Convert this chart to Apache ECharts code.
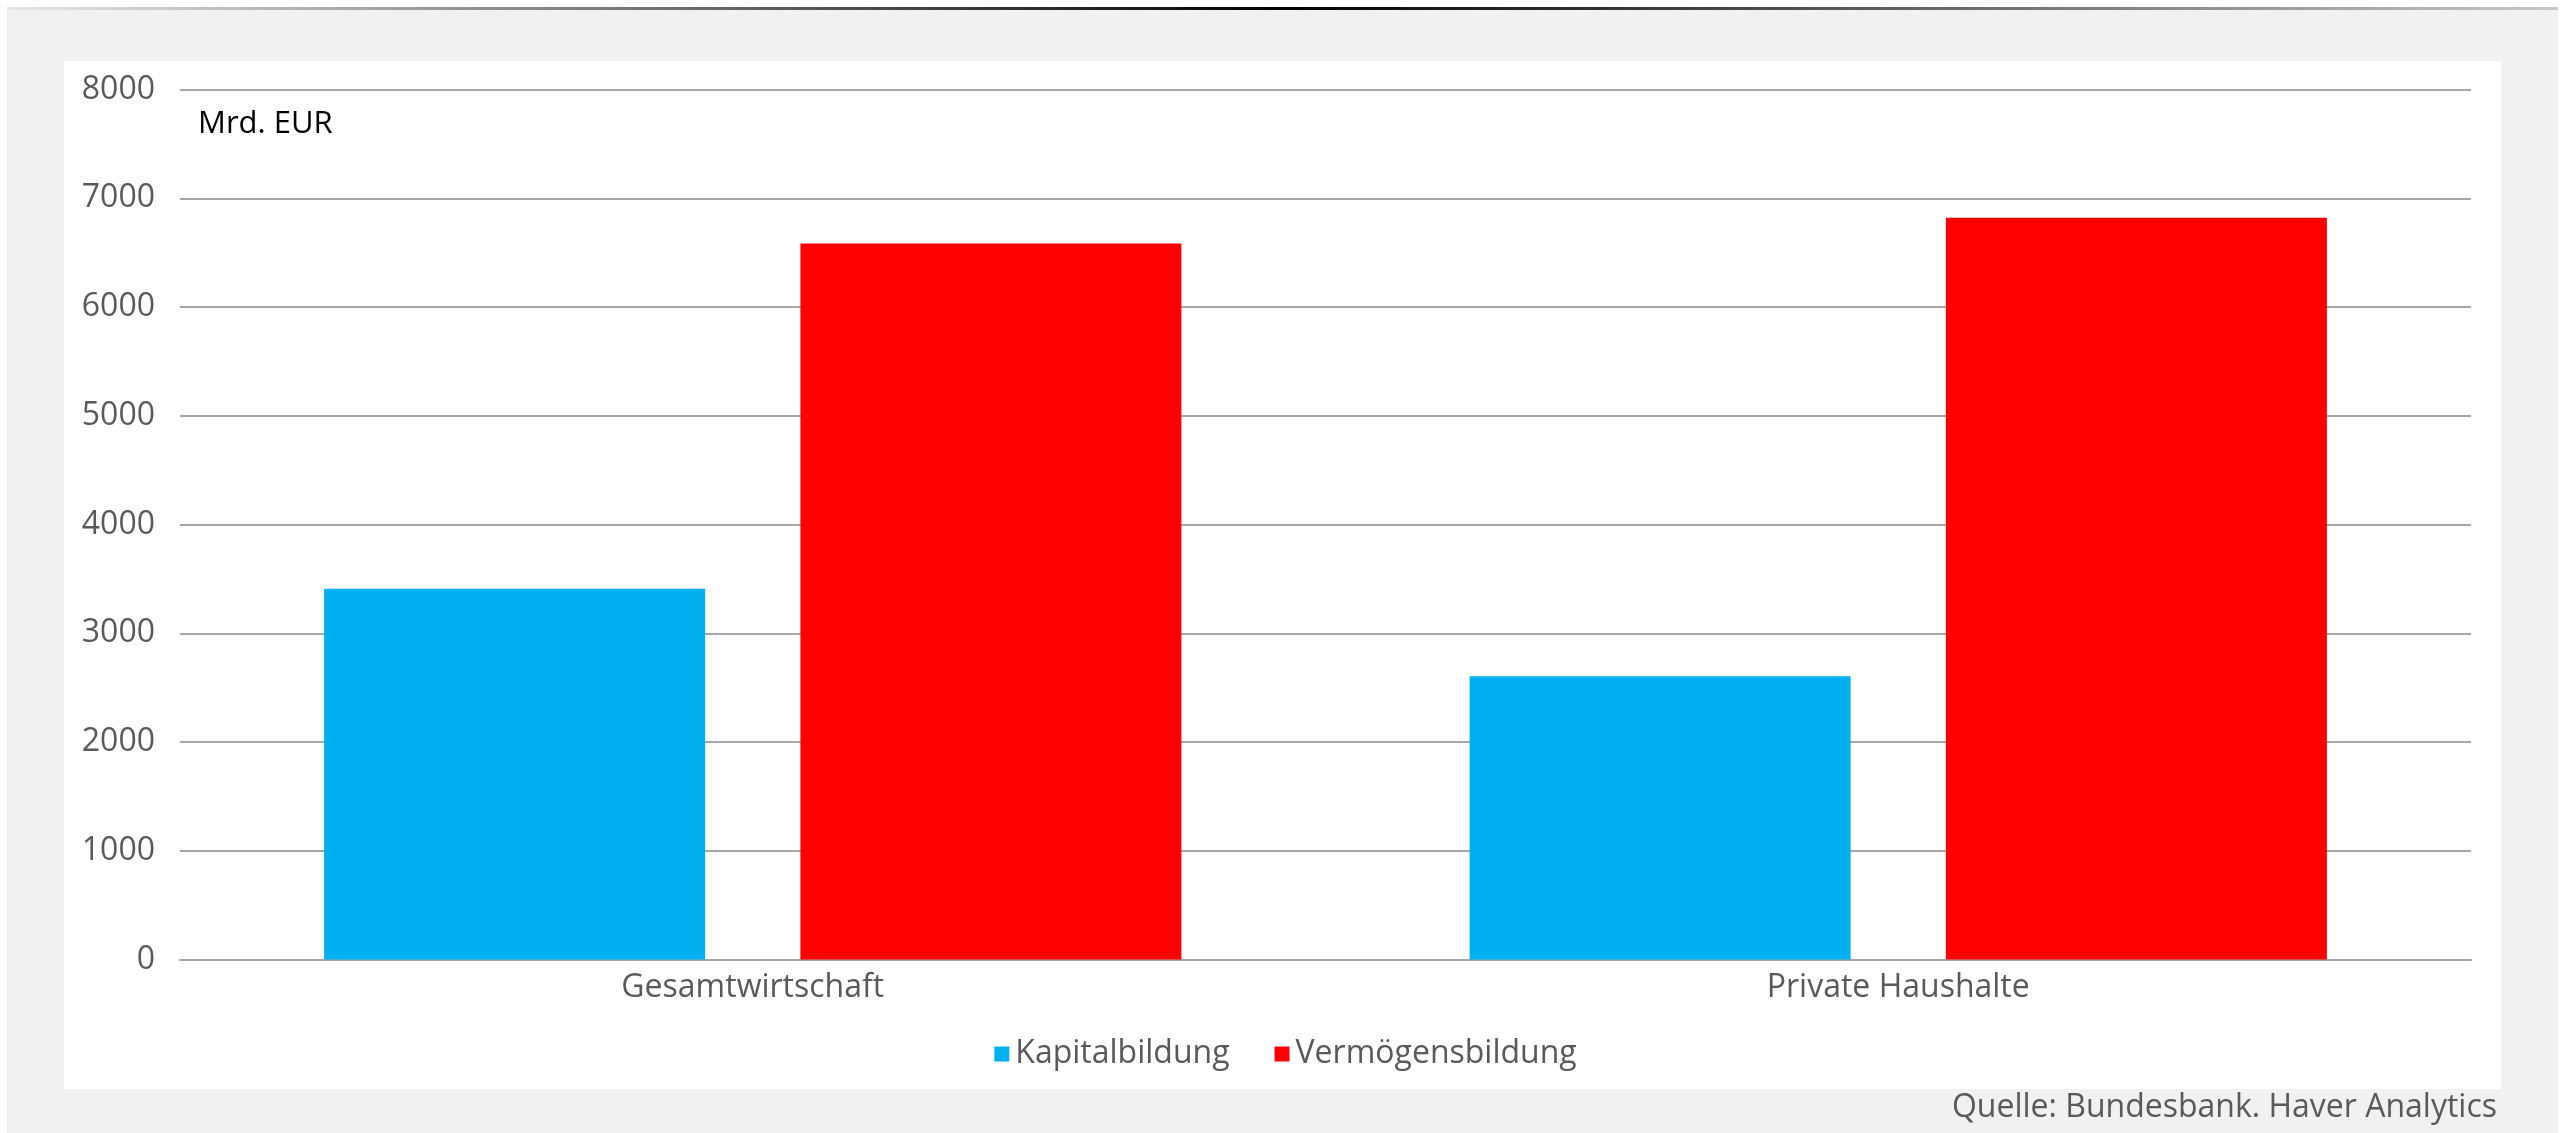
<!DOCTYPE html>
<html>
<head>
<meta charset="utf-8">
<title>Kapitalbildung vs. Vermögensbildung</title>
<script src="https://cdn.jsdelivr.net/npm/echarts@6/dist/echarts.min.js"></script>
<style>
  html, body { margin: 0; padding: 0; background: #fff; }
  #chart { width: 2571px; height: 1133px; }
</style>
</head>
<body>
<div id="chart"></div>
<script>
// Daten (Mrd. EUR)
const categories = ['Gesamtwirtschaft', 'Private Haushalte']
const kapitalbildung = [3410, 2605]
const vermoegensbildung = [6585, 6820]
const seriesNames = ['Kapitalbildung', 'Vermögensbildung']
const yMin = 0
const yMax = 8000
const yStep = 1000

const labelColor = '#595959'
const gridColor = '#a6a6a6'
const font = '"Open Sans", "Noto Sans", sans-serif'

const chart = echarts.init(document.getElementById('chart'))

chart.setOption({
  backgroundColor: '#ffffff',
  animation: false,
  color: ['#00b0f0', '#ff0000'],
  textStyle: { fontFamily: font },
  graphic: [
    // grauer Rahmen
    { type: 'rect', z: -10, shape: { x: 7, y: 7, width: 2551, height: 1126 }, style: { fill: '#f1f1f1' } },
    // Linie oben mit Verlauf
    {
      type: 'rect', z: -9,
      shape: { x: 7, y: 7, width: 2551, height: 3 },
      style: {
        fill: new echarts.graphic.LinearGradient(0, 0, 1, 0, [
          { offset: 0, color: '#e6e6e6' },
          { offset: 0.5, color: '#000000' },
          { offset: 1, color: '#c8c8c8' }
        ])
      }
    },
    // weiße Zeichenfläche
    { type: 'rect', z: -8, shape: { x: 64, y: 61, width: 2437, height: 1028 }, style: { fill: '#ffffff' } },
    {
      type: 'text', left: 198, top: 109,
      style: { text: 'Mrd. EUR', fill: '#000000', fontSize: 31, fontFamily: font }
    },
    {
      type: 'text', right: 2571 - 2497, top: 1092,
      style: { text: 'Quelle: Bundesbank. Haver Analytics', fill: labelColor, fontSize: 32, fontFamily: font }
    }
  ],
  legend: {
    data: seriesNames,
    left: 'center',
    top: 1033,
    icon: 'rect',
    itemWidth: 15,
    itemHeight: 15,
    itemGap: 45,
    textStyle: { color: labelColor, fontSize: 32, fontFamily: font, padding: [0, 0, 0, 1] }
  },
  grid: {
    left: 180,
    right: 100,
    top: 89.5,
    bottom: 173.5,
    containLabel: false
  },
  xAxis: {
    type: 'category',
    data: categories,
    axisLine: { lineStyle: { color: gridColor, width: 2 } },
    axisTick: { show: false },
    axisLabel: { color: labelColor, fontSize: 32, fontFamily: font, margin: 12 }
  },
  yAxis: {
    type: 'value',
    min: yMin,
    max: yMax,
    interval: yStep,
    axisLine: { show: false },
    axisTick: { show: false },
    axisLabel: {
      color: labelColor,
      fontSize: 32,
      fontFamily: font,
      margin: 25,
      formatter: (v) => String(v) // ohne Tausendertrennzeichen
    },
    splitLine: { lineStyle: { color: gridColor, width: 2 } }
  },
  series: [
    {
      name: seriesNames[0],
      type: 'bar',
      data: kapitalbildung,
      barWidth: 381,
      barGap: '25%'
    },
    {
      name: seriesNames[1],
      type: 'bar',
      data: vermoegensbildung,
      barWidth: 381,
      barGap: '25%'
    }
  ]
})
</script>
</body>
</html>
